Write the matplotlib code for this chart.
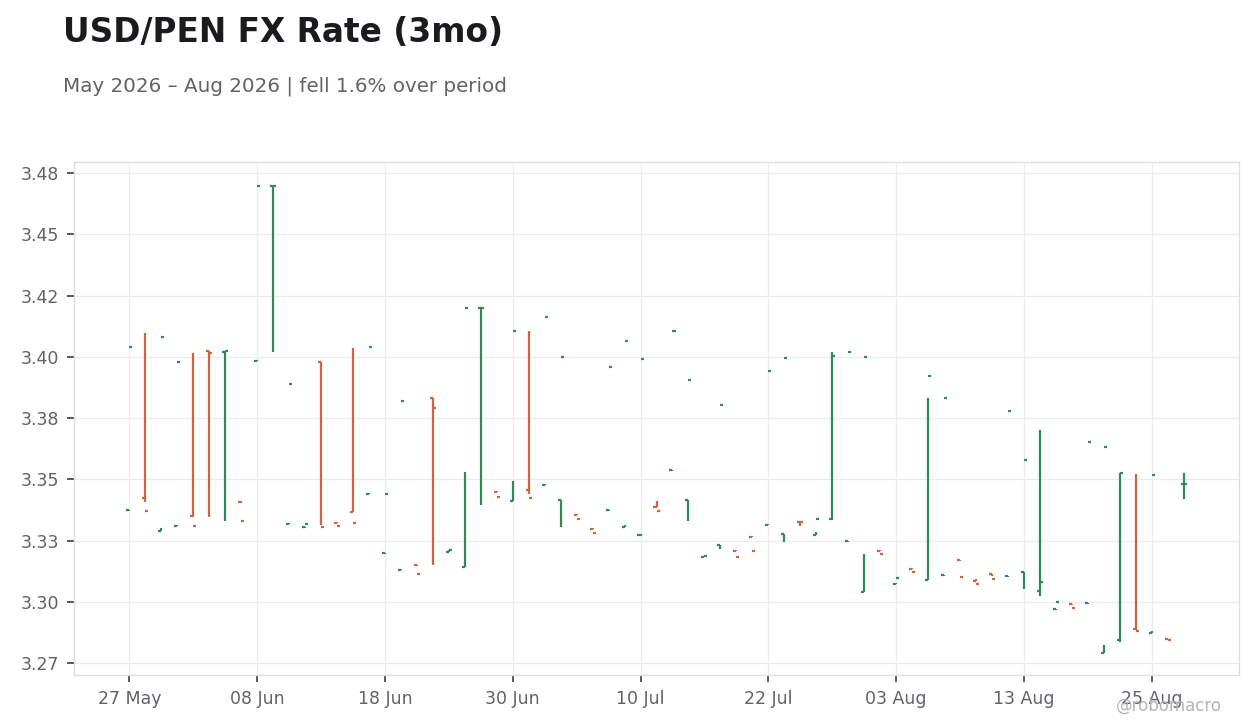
import matplotlib
matplotlib.use("Agg")
import matplotlib.pyplot as plt
import numpy as np
import pandas as pd

# business days shown on the chart
dates = pd.bdate_range("2026-05-27", periods=67)

opens = [3.3374, 3.3425, 3.3290, 3.3310, 3.3350, 3.4023, 3.4022, 3.3408, 3.3985, 3.4699,
         3.3318, 3.3305, 3.3978, 3.3322, 3.3367, 3.3441, 3.3199, 3.3130, 3.3150, 3.3831,
         3.3204, 3.3141, 3.4199, 3.3450, 3.3413, 3.3458, 3.3478, 3.3417, 3.3355, 3.3298,
         3.3373, 3.3306, 3.3272, 3.3387, 3.3540, 3.3417, 3.3183, 3.3232, 3.3208, 3.3265,
         3.3314, 3.3277, 3.3327, 3.3273, 3.3337, 3.3249, 3.3038, 3.3208, 3.3071, 3.3134,
         3.3089, 3.3109, 3.3169, 3.3085, 3.3113, 3.3105, 3.3120, 3.3046, 3.2969, 3.2989,
         3.2994, 3.2792, 3.2842, 3.2888, 3.2874, 3.2847, 3.3481]
highs = [3.3376, 3.4098, 3.3300, 3.3312, 3.4016, 3.4023, 3.4023, 3.3412, 3.3987, 3.4700,
         3.3320, 3.3307, 3.3978, 3.3324, 3.4037, 3.3443, 3.3201, 3.3132, 3.3152, 3.3831,
         3.3212, 3.3530, 3.4199, 3.3452, 3.3493, 3.4104, 3.3480, 3.3417, 3.3357, 3.3300,
         3.3375, 3.3312, 3.3277, 3.3411, 3.3540, 3.3417, 3.3185, 3.3232, 3.3210, 3.3267,
         3.3316, 3.3277, 3.3327, 3.3284, 3.4022, 3.3249, 3.3194, 3.3210, 3.3078, 3.3136,
         3.3832, 3.3111, 3.3171, 3.3095, 3.3113, 3.3107, 3.3120, 3.3701, 3.2971, 3.2991,
         3.2996, 3.2824, 3.3525, 3.3520, 3.2880, 3.2849, 3.3526]
lows = [3.3372, 3.3408, 3.3290, 3.3308, 3.3347, 3.3346, 3.3329, 3.3405, 3.3983, 3.4019,
        3.3316, 3.3303, 3.3313, 3.3320, 3.3367, 3.3439, 3.3197, 3.3128, 3.3148, 3.3150,
        3.3204, 3.3141, 3.3396, 3.3448, 3.3413, 3.3441, 3.3476, 3.3306, 3.3353, 3.3296,
        3.3371, 3.3304, 3.3270, 3.3387, 3.3534, 3.3331, 3.3181, 3.3216, 3.3206, 3.3263,
        3.3312, 3.3245, 3.3310, 3.3273, 3.3336, 3.3243, 3.3038, 3.3206, 3.3071, 3.3132,
        3.3089, 3.3105, 3.3167, 3.3085, 3.3105, 3.3103, 3.3052, 3.3023, 3.2967, 3.2987,
        3.2992, 3.2792, 3.2837, 3.2885, 3.2872, 3.2845, 3.3421]
closes = [3.4040, 3.3370, 3.4081, 3.3978, 3.3310, 3.4018, 3.4023, 3.3329, 3.4699, 3.4700,
          3.3888, 3.3318, 3.3305, 3.3309, 3.3322, 3.4040, 3.3441, 3.3818, 3.3113, 3.3790,
          3.3212, 3.4199, 3.4200, 3.3428, 3.4105, 3.3423, 3.4163, 3.4001, 3.3339, 3.3281,
          3.3960, 3.4064, 3.3993, 3.3372, 3.4105, 3.3904, 3.3187, 3.3802, 3.3182, 3.3208,
          3.3941, 3.3995, 3.3326, 3.3337, 3.4003, 3.4022, 3.4001, 3.3194, 3.3097, 3.3120,
          3.3923, 3.3833, 3.3100, 3.3071, 3.3092, 3.3781, 3.3579, 3.3081, 3.2999, 3.2973,
          3.3654, 3.3634, 3.3527, 3.2880, 3.3519, 3.2842, 3.3482]

y_ticks = [3.275, 3.300, 3.325, 3.350, 3.375, 3.400, 3.425, 3.450, 3.475]
y_tick_labels = ["3.27", "3.30", "3.33", "3.35", "3.38", "3.40", "3.42", "3.45", "3.48"]

UP = "#2e8b57"
DOWN = "#cc643f"
TXT = "#5f6368"

o = np.array(opens); h = np.array(highs); l = np.array(lows); c = np.array(closes)
x = np.arange(len(dates))
cols = [UP if cc >= oo else DOWN for oo, cc in zip(o, c)]
w = 0.19

fig = plt.figure(figsize=(12.6, 7.28), dpi=100)
ax = fig.add_axes([74/1260, 1-675/728, (1239-74)/1260, (675-162)/728])

ax.vlines(x, l, h, colors=cols, linewidth=1.6, zorder=3)
ax.hlines(o, x - w, x, colors=cols, linewidth=1.6, zorder=3)
ax.hlines(c, x, x + w, colors=cols, linewidth=1.6, zorder=3)

ax.set_xlim(-3.47, len(x) - 1 + 3.47)
ax.set_ylim(3.2701, 3.4796)

xt = x[::8]
ax.set_xticks(xt)
ax.set_xticklabels([d.strftime("%d %b") for d in dates[::8]])
ax.set_yticks(y_ticks)
ax.set_yticklabels(y_tick_labels)

ax.grid(True, color="#ececec", linewidth=0.9, zorder=0)
ax.set_axisbelow(True)
for s in ax.spines.values():
    s.set_color("#dddddd")
    s.set_linewidth(1.0)
ax.tick_params(axis="both", colors="#55585e", labelcolor=TXT, labelsize=12.5,
               length=5, width=1.4, pad=6)

fig.text(63/1260, 1-42/728, "USD/PEN FX Rate (3mo)", fontsize=23.6, fontweight="bold",
         color="#1a1a1f", va="baseline", ha="left")
fig.text(63/1260, 1-92/728, "May 2026 \u2013 Aug 2026 | fell 1.6% over period", fontsize=14.3,
         color=TXT, va="baseline", ha="left")
fig.text(1222/1260, 1-706/728, "@robomacro", fontsize=12, color="#b4b4b8",
         ha="right", va="center")

fig.savefig("out.png", dpi=100)
